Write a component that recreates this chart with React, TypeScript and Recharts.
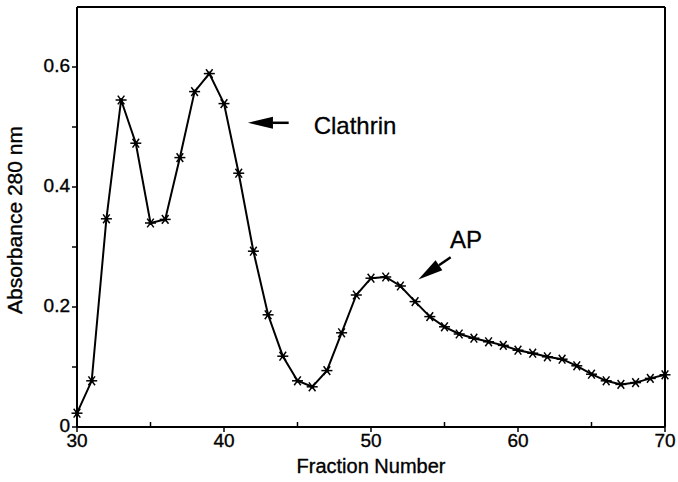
import React from 'react';
import { LineChart, Line, XAxis, YAxis, ReferenceLine, ReferenceDot, Label } from 'recharts';

const fractions = [30, 31, 32, 33, 34, 35, 36, 37, 38, 39, 40, 41, 42, 43, 44, 45, 46, 47, 48, 49, 50,
  51, 52, 53, 54, 55, 56, 57, 58, 59, 60, 61, 62, 63, 64, 65, 66, 67, 68, 69, 70];
const absorbance = [0.023, 0.077, 0.347, 0.545, 0.473, 0.340, 0.346, 0.449, 0.559, 0.589, 0.539,
  0.423, 0.293, 0.187, 0.118, 0.077, 0.067, 0.094, 0.157, 0.220, 0.248,
  0.250, 0.235, 0.209, 0.184, 0.167, 0.155, 0.148, 0.142, 0.136, 0.128,
  0.123, 0.117, 0.113, 0.102, 0.088, 0.077, 0.071, 0.074, 0.081, 0.087];

const xTicks = [30, 35, 40, 45, 50, 55, 60, 65, 70];
const xMajorTicks = [30, 40, 50, 60, 70];
const yTicks = [0, 0.1, 0.2, 0.3, 0.4, 0.5, 0.6];
const yTickLabels = ['0', '', '0.2', '', '0.4', '', '0.6'];
const xMax = 70;
const yMax = 0.7;

const xLabel = 'Fraction Number';
const yLabel = 'Absorbance 280 nm';
const clathrinLabel = 'Clathrin';
const apLabel = 'AP';

// annotation anchors in data units
const clathrinArrow = [{ x: 44.4, y: 0.507 }, { x: 41.63, y: 0.507 }];
const clathrinText = { x: 46.1, y: 0.488 };
const apArrow = [{ x: 55.42, y: 0.283 }, { x: 53.22, y: 0.246 }];
const apText = { x: 55.37, y: 0.298 };

const data = fractions.map((f, i) => ({ f, a: absorbance[i] }));

const FONT = '"Liberation Sans", Arial, Helvetica, sans-serif';
const TEXT_STROKE = 0.35;

const Star = (props: any) => {
  const { cx, cy, index } = props;
  if (cx == null || cy == null) return <g key={index} />;
  const r = 5.5;
  const c = Math.cos(Math.PI / 3.4) * r;
  const s = Math.sin(Math.PI / 3.4) * r;
  return (
    <g key={`s-${index}`} stroke="#000" strokeWidth={1.5}>
      <line x1={cx - r} y1={cy} x2={cx + r} y2={cy} />
      <line x1={cx - c} y1={cy - s} x2={cx + c} y2={cy + s} />
      <line x1={cx - c} y1={cy + s} x2={cx + c} y2={cy - s} />
      <circle cx={cx} cy={cy} r={2} fill="#000" stroke="none" />
    </g>
  );
};

const XTick = (props: any) => {
  const { x, y, payload } = props;
  const v = payload.value;
  const major = xMajorTicks.includes(v);
  return (
    <g>
      <line x1={x} y1={y} x2={x} y2={major ? y + 5 : y - 5} stroke="#000" strokeWidth={1.5} />
      {major && (
        <text x={x} y={y + 20} textAnchor="middle" fontSize={19} fontFamily={FONT} fill="#000" stroke="#000" strokeWidth={TEXT_STROKE}>
          {String(v)}
        </text>
      )}
    </g>
  );
};

const YTick = (props: any) => {
  const { x, y, payload } = props;
  const label = yTickLabels[yTicks.indexOf(payload.value)] ?? '';
  if (!label) return <g />;
  return (
    <text x={x} y={y - 2} dy="0.355em" textAnchor="end" fontSize={19} fontFamily={FONT} fill="#000" stroke="#000" strokeWidth={TEXT_STROKE}>
      {label}
    </text>
  );
};

const Arrow = (props: any) => {
  const { x1, y1, x2, y2 } = props;
  const dx = x2 - x1;
  const dy = y2 - y1;
  const len = Math.sqrt(dx * dx + dy * dy) || 1;
  const ux = dx / len;
  const uy = dy / len;
  const head = 25;
  const hw = 6;
  const bx = x2 - ux * head;
  const by = y2 - uy * head;
  const px = -uy;
  const py = ux;
  return (
    <g>
      <line x1={x1} y1={y1} x2={bx} y2={by} stroke="#000" strokeWidth={2.5} />
      <polygon
        points={`${x2},${y2} ${bx + px * hw},${by + py * hw} ${bx - px * hw},${by - py * hw}`}
        fill="#000"
      />
    </g>
  );
};

const makeText = (label: string) => (props: any) => (
  <text x={props.cx} y={props.cy} fontSize={24} fontFamily={FONT} fill="#000" stroke="#000" strokeWidth={0.3} textAnchor="start">
    {label}
  </text>
);

export default function App() {
  return (
    <div style={{ position: 'absolute', left: 0, top: 0, width: 678, height: 482, background: '#fff' }}>
      <LineChart width={678} height={482} data={data} margin={{ top: 7, right: 13, bottom: 0, left: 0 }}>
        <XAxis
          dataKey="f"
          type="number"
          domain={[30, xMax]}
          ticks={xTicks}
          interval={0}
          tickLine={false}
          tickSize={0}
          tickMargin={0}
          tick={<XTick />}
          height={55}
          axisLine={{ stroke: '#000', strokeWidth: 2 }}
        >
          <Label
            content={(p: any) => {
              const vb = p.viewBox;
              return (
                <text x={vb.x + vb.width / 2} y={vb.y + 46} textAnchor="middle" fontSize={20} fontFamily={FONT} fill="#000" stroke="#000" strokeWidth={TEXT_STROKE}>
                  {xLabel}
                </text>
              );
            }}
          />
        </XAxis>
        <YAxis
          type="number"
          domain={[0, yMax]}
          ticks={yTicks}
          interval={0}
          width={77}
          tickSize={5}
          tickMargin={2}
          tick={<YTick />}
          tickLine={{ stroke: '#000', strokeWidth: 1.5 }}
          axisLine={{ stroke: '#000', strokeWidth: 2 }}
        >
          <Label
            content={(p: any) => {
              const vb = p.viewBox;
              const cx = 22;
              const cy = vb.y + vb.height / 2 + 3;
              return (
                <text x={cx} y={cy} transform={`rotate(-90 ${cx} ${cy})`} textAnchor="middle" fontSize={21} fontFamily={FONT} fill="#000" stroke="#000" strokeWidth={TEXT_STROKE}>
                  {yLabel}
                </text>
              );
            }}
          />
        </YAxis>
        <ReferenceLine y={yMax} stroke="#000" strokeWidth={2} />
        <ReferenceLine x={xMax} stroke="#000" strokeWidth={2} />
        <Line
          dataKey="a"
          type="linear"
          stroke="#000"
          strokeWidth={2}
          dot={Star}
          activeDot={false}
          isAnimationActive={false}
        />
        <ReferenceLine segment={clathrinArrow} ifOverflow="visible" shape={Arrow} />
        <ReferenceLine segment={apArrow} ifOverflow="visible" shape={Arrow} />
        <ReferenceDot x={clathrinText.x} y={clathrinText.y} r={0} ifOverflow="visible" shape={makeText(clathrinLabel)} />
        <ReferenceDot x={apText.x} y={apText.y} r={0} ifOverflow="visible" shape={makeText(apLabel)} />
      </LineChart>
    </div>
  );
}
